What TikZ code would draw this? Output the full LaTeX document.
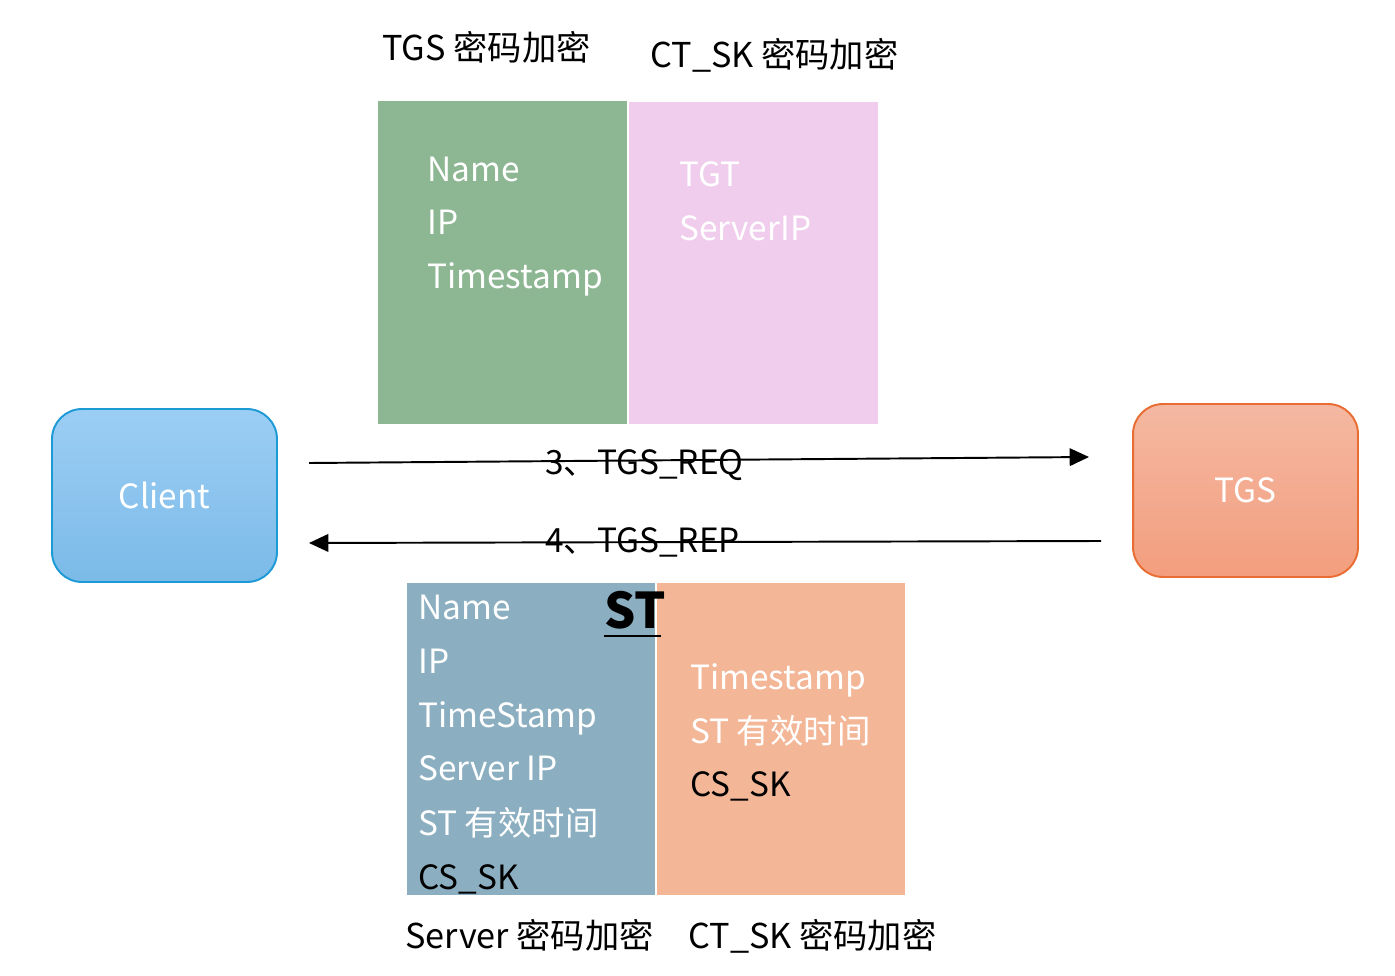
\documentclass[tikz,border=0pt]{standalone}
\usepackage{fontspec}
\setmainfont{Noto Sans CJK SC}
\usetikzlibrary{arrows.meta}
\usetikzlibrary{positioning}

\definecolor{tgtgreen}{HTML}{8DB793}
\definecolor{tgtpink}{HTML}{F0CDED}
\definecolor{stblue}{HTML}{8BAFC1}
\definecolor{stsalmon}{HTML}{F3B798}
\definecolor{clienttop}{HTML}{9CCEF4}
\definecolor{clientbot}{HTML}{7BBAE8}
\definecolor{clientline}{HTML}{1C9AD6}
\definecolor{tgstop}{HTML}{F4B8A2}
\definecolor{tgsbot}{HTML}{F39E7E}
\definecolor{tgsline}{HTML}{E96D32}

\tikzset{
  fieldtxt/.style={anchor=base west,inner sep=0pt,text=white,font=\fontsize{19}{22}\selectfont},
  keytxt/.style={fieldtxt,text=black},
  capt/.style={anchor=base west,inner sep=0pt,font=\fontsize{19.5}{22}\selectfont},
  party/.style={rounded corners=0.6cm,minimum width=4.5cm,minimum height=3.46cm,line width=1.1pt,text=white,font=\fontsize{19}{22}\selectfont},
  msgarrow/.style={line width=1.1pt,-{Triangle[length=11pt,width=10pt]}},
  msglbl/.style={anchor=base west,inner sep=0pt,font=\fontsize{19}{22}\selectfont}
}

\begin{document}
\begin{tikzpicture}[x=0.02cm,y=-0.02cm]
\useasboundingbox (0,0) rectangle (1395,976);

% TGS_REQ packet
\fill[tgtgreen] (378,101) rectangle (627,424);
\fill[tgtpink] (629,102) rectangle (878,424);
\node[capt] (reqkey1) at (382,61) {TGS 密码加密};
\node[capt] (reqkey2) at (650,68) {CT\_SK 密码加密};
\node[fieldtxt] (rqname) at (427,182) {Name};
\node[fieldtxt] (rqip) at (427,235) {IP};
\node[fieldtxt] (rqtime) at (427,289) {Timestamp};
\node[fieldtxt] (rqtgt) at (679,187) {TGT};
\node[fieldtxt] (rqsrv) at (679,241) {ServerIP};

% parties
\node[party,draw=clientline,top color=clienttop,bottom color=clientbot] (client) at (164.5,495.5) {Client};
\node[party,draw=tgsline,top color=tgstop,bottom color=tgsbot] (tgs) at (1245.5,490.5) {TGS};

% messages
\coordinate (reqA) at (309,463);
\coordinate (reqB) at (1089,457);
\coordinate (repA) at (1101,541);
\coordinate (repB) at (309,543);
\draw[msgarrow] (reqA) -- (reqB);
\draw[msgarrow] (repA) -- (repB);
\node[msglbl] (reqlbl) at (545,474) {3、TGS\_REQ};
\node[msglbl] (replbl) at (545,552) {4、TGS\_REP};

% TGS_REP packet
\fill[stblue] (407,583) rectangle (655,895);
\fill[stsalmon] (657,583) rectangle (905,895);
\node[anchor=base west,inner sep=0pt,font=\fontsize{28}{30}\selectfont\bfseries] (sttag) at (604,628) {ST};
\draw[line width=1.4pt] (sttag.base west) ++(0,8) -- ++(57,0);
\node[fieldtxt] (spname) at (418,619) {Name};
\node[fieldtxt] (spip) at (418,673) {IP};
\node[fieldtxt] (sptime) at (418,727) {TimeStamp};
\node[fieldtxt] (spsrv) at (418,780) {Server IP};
\node[fieldtxt] (spvalid) at (418,835) {ST 有效时间};
\node[keytxt] (spkey) at (418,889) {CS\_SK};
\node[fieldtxt] (sptime2) at (690,689) {Timestamp};
\node[fieldtxt] (spvalid2) at (690,743) {ST 有效时间};
\node[keytxt] (spkey2) at (690,796) {CS\_SK};
\node[capt] (repkey1) at (405,948) {Server 密码加密};
\node[capt] (repkey2) at (688,948) {CT\_SK 密码加密};

\end{tikzpicture}
\end{document}
